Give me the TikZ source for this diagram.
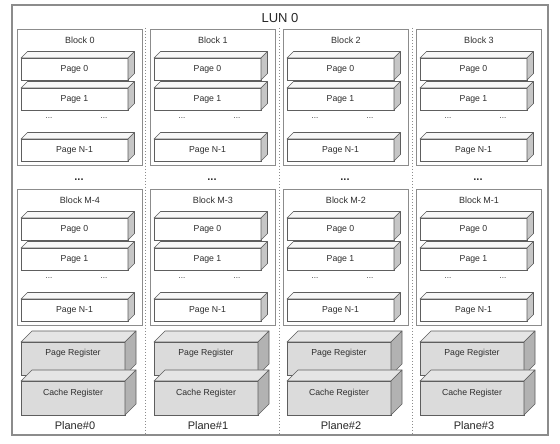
\documentclass[tikz,border=0pt]{standalone}
\usepackage{fontspec}
\setmainfont{Liberation Sans}
\usetikzlibrary{positioning,calc}
\definecolor{edge}{HTML}{5E5E5E}
\definecolor{frame}{HTML}{8C8C8C}
\definecolor{ink}{HTML}{2E2E2E}
% 3D slab: [style]{name}{left}{top (image px)}{width}{height}{depth}{text}
\newcommand{\slab}[8][page]{%
  \node[#1, minimum width=#5pt, minimum height=#6pt, anchor=north west] (#2) at ({#3},{444-(#4)}) {#8};
  \filldraw[#1 top] (#2.north west) -- ++(#7,#7) -- ++(#5,0) -- (#2.north east) -- cycle;
  \filldraw[#1 side] (#2.north east) -- ++(#7,#7) -- ++(0,-#6) -- (#2.south east) -- cycle;
}
\begin{document}
\begin{tikzpicture}[x=1pt, y=1pt,
  page/.style={draw=edge, fill=white, line width=0.6pt, inner sep=0pt, outer sep=0pt, text=ink, font=\fontsize{8.7}{10}\selectfont},
  page top/.style={draw=edge, fill=gray!6, line width=0.6pt, line join=round},
  page side/.style={draw=edge, fill=gray!45, line width=0.6pt, line join=round},
  reg/.style={page, fill=gray!28},
  reg top/.style={page top, fill=gray!20},
  reg side/.style={page side, fill=gray!60},
  blkbox/.style={draw=frame, line width=0.8pt},
  blktitle/.style={text=ink, font=\fontsize{9}{11}\selectfont},
  rowdots/.style={text=ink, font=\fontsize{8}{10}\selectfont},
  gapdots/.style={text=ink, font=\fontsize{11}{12}\selectfont\bfseries},
  sep/.style={draw=frame, dotted, line width=1pt}]
\useasboundingbox (0,0) rectangle (560,444);
% LUN frame
\draw[frame, line width=1.2pt] (12,444-5) rectangle (548,444-435);
\node[text=black!85, font=\fontsize{13}{15}\selectfont] (lun) at (280,444-18) {LUN 0};
% plane separators
\foreach \s in {145.5,279,412.5}
  \draw[sep] (\s,444-28) -- (\s,444-435);
% planes
\foreach \c/\lo in {0/M-4,1/M-3,2/M-2,3/M-1}{
  \pgfmathsetmacro\L{17+133*\c}
  % blocks
  \draw[blkbox] (\L,444-29.5) rectangle ++(125,-136);
  \draw[blkbox] (\L,444-189.5) rectangle ++(125,-136);
  \node[blktitle] (btu\c) at (\L+63,444-40) {Block \c};
  \node[blktitle] (btl\c) at (\L+63,444-200) {Block \lo};
  \node[gapdots] (gap\c) at (\L+62,444-180) {...};
  % pages
  \foreach \T/\tag in {29.5/u,189.5/l}{
    \slab{pg\tag\c-0}{\L+4}{\T+28.5}{107}{22}{6.5}{Page 0}
    \slab{pg\tag\c-1}{\L+4}{\T+58.5}{107}{22}{6.5}{Page 1}
    \node[rowdots] (dt\tag\c a) at ({\L+32},{444-(\T+88.5)}) {...};
    \node[rowdots] (dt\tag\c b) at ({\L+87},{444-(\T+88.5)}) {...};
    \slab{pg\tag\c-n}{\L+4}{\T+109.5}{107}{22}{6.5}{Page N-1}
  }
  % registers
  \slab[reg]{pr\c}{\L+4}{342}{104}{33}{11}{\raisebox{12pt}{Page Register}}
  \slab[reg]{cr\c}{\L+4}{381}{104}{34}{11}{\raisebox{12pt}{Cache Register}}
  \node[text=black!85, font=\fontsize{11}{13}\selectfont] (pl\c) at (\L+58,444-426) {Plane\#\c};
}
\end{tikzpicture}
\end{document}
